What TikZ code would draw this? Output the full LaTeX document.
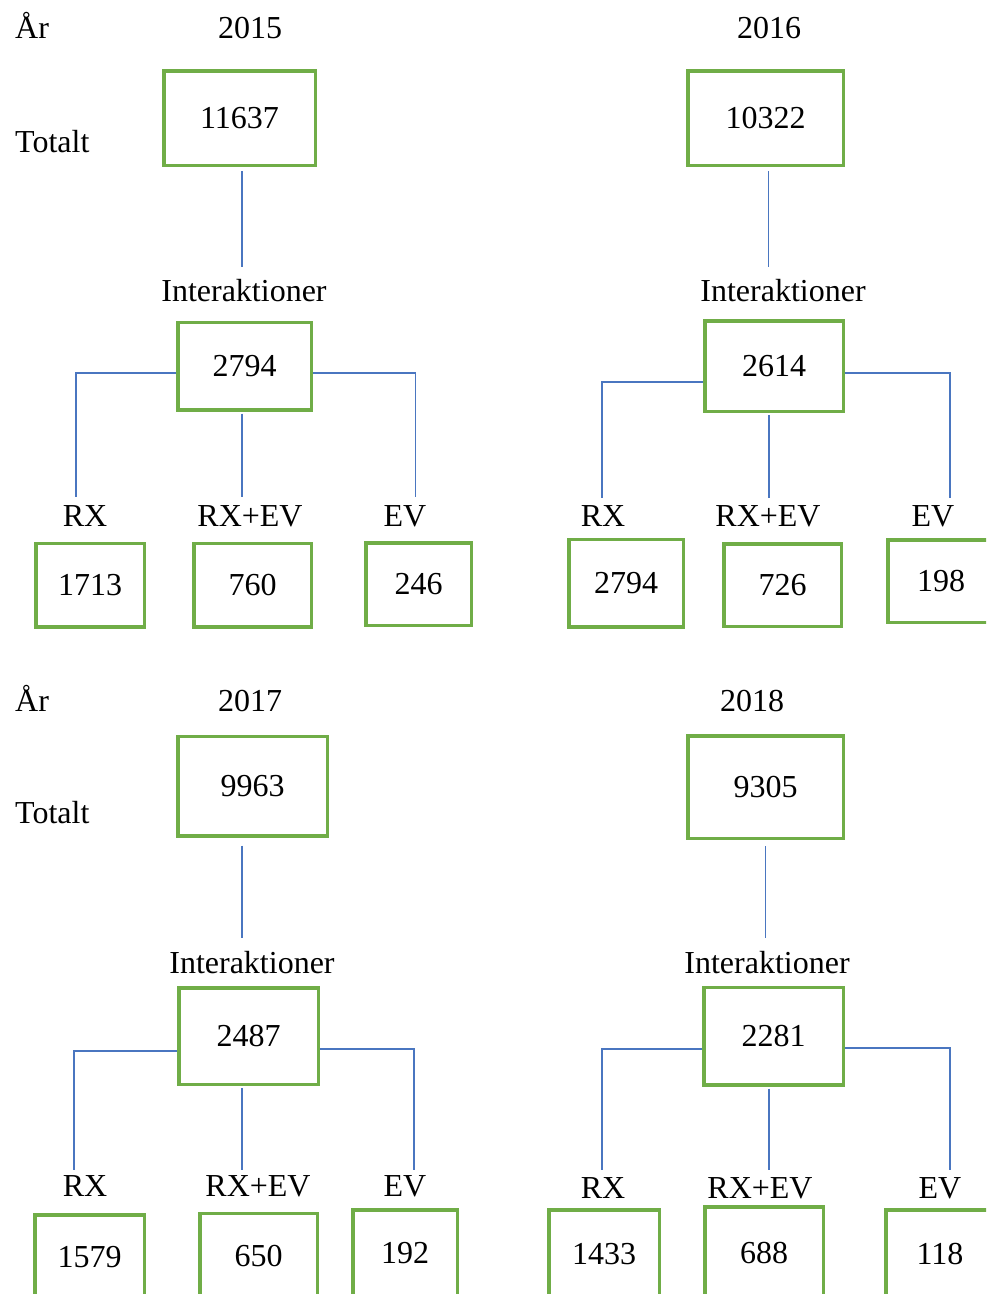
\documentclass[tikz,border=0pt]{standalone}
\usepackage{fontspec}
\setmainfont{Liberation Serif}
\definecolor{boxgreen}{HTML}{70AD47}
\definecolor{linkblue}{HTML}{4A76C0}
\begin{document}
\begin{tikzpicture}[x=1pt,y=-1pt,
  valbox/.style={draw=boxgreen, line width=3.5pt, inner sep=0pt, font=\fontsize{32}{38}\selectfont},
  lbl/.style={inner sep=0pt, anchor=base, font=\fontsize{32}{38}\selectfont},
  lblw/.style={lbl, anchor=base west},
  conn/.style={draw=linkblue, line width=1.5pt}]
\useasboundingbox (0,0) rectangle (986,1294);
\clip (0,0) rectangle (986,1294);
\newcommand{\numbox}[6]{\node[valbox, minimum width=#4pt-3.5pt, minimum height=#5pt-3.5pt] (#1) at (#2,#3) {#6};}
% ---------------- 2015 ----------------
\node[lblw] (ar15) at (15,38) {År};
\node[lbl] (y15) at (250,38) {2015};
\node[lblw] (tot15) at (15,152) {Totalt};
\node[lbl] (int15) at (244,301) {Interaktioner};
\node[lbl] (lr15) at (85,526) {RX};
\node[lbl] (lm15) at (250,526) {RX+EV};
\node[lbl] (le15) at (405,526) {EV};
\numbox{t15}{239.5}{118}{155}{98}{11637}
\numbox{i15}{244.5}{366}{137}{91}{2794}
\numbox{r15}{90}{585}{112}{87}{1713}
\numbox{m15}{252.5}{585}{121}{87}{760}
\numbox{e15}{418.5}{584}{109}{86}{246}
\coordinate (a15) at (242,267);
\coordinate (k15r) at (76,373);
\coordinate (p15r) at (76,497);
\coordinate (p15m) at (242,497);
\coordinate (k15e) at (415.5,373);
\coordinate (p15e) at (415.5,497);
\draw[conn, shorten <=4pt] (t15.south -| a15) -- (a15);
\draw[conn] (i15.west |- k15r) -- (k15r) -- (p15r);
\draw[conn, shorten <=2pt] (i15.south -| p15m) -- (p15m);
\draw[conn] (i15.east |- k15e) -- (k15e) -- (p15e);
% ---------------- 2016 ----------------
\node[lbl] (y16) at (769,38) {2016};
\node[lbl] (int16) at (783,301) {Interaktioner};
\node[lbl] (lr16) at (603,526) {RX};
\node[lbl] (lm16) at (768,526) {RX+EV};
\node[lbl] (le16) at (933,526) {EV};
\numbox{t16}{765.5}{118}{159}{98}{10322}
\numbox{i16}{774}{366}{142}{94}{2614}
\numbox{r16}{626}{583}{118}{91}{2794}
\numbox{m16}{782.5}{585}{121}{86}{726}
\numbox{e16}{941}{581}{110}{86}{198}
\coordinate (a16) at (768.5,267);
\coordinate (k16r) at (602,382);
\coordinate (p16r) at (602,498);
\coordinate (p16m) at (769,498);
\coordinate (k16e) at (950,373);
\coordinate (p16e) at (950,498);
\draw[conn, shorten <=4pt] (t16.south -| a16) -- (a16);
\draw[conn] (i16.west |- k16r) -- (k16r) -- (p16r);
\draw[conn, shorten <=2pt] (i16.south -| p16m) -- (p16m);
\draw[conn] (i16.east |- k16e) -- (k16e) -- (p16e);
% ---------------- 2017 ----------------
\node[lblw] (ar17) at (15,711) {År};
\node[lbl] (y17) at (250,711) {2017};
\node[lblw] (tot17) at (15,823) {Totalt};
\node[lbl] (int17) at (252,973) {Interaktioner};
\node[lbl] (lr17) at (85,1196) {RX};
\node[lbl] (lm17) at (258,1196) {RX+EV};
\node[lbl] (le17) at (405,1196) {EV};
\numbox{t17}{252.5}{786}{153}{103}{9963}
\numbox{i17}{248.5}{1036}{143}{100}{2487}
\numbox{r17}{89.5}{1257}{113}{88}{1579}
\numbox{m17}{258.5}{1256}{121}{89}{650}
\numbox{e17}{405}{1253}{108}{90}{192}
\coordinate (a17) at (242,938);
\coordinate (k17r) at (74,1051);
\coordinate (p17r) at (74,1170);
\coordinate (p17m) at (242,1170);
\coordinate (k17e) at (414,1049);
\coordinate (p17e) at (414,1170);
\draw[conn, shorten <=8pt] (t17.south -| a17) -- (a17);
\draw[conn] (i17.west |- k17r) -- (k17r) -- (p17r);
\draw[conn, shorten <=2pt] (i17.south -| p17m) -- (p17m);
\draw[conn] (i17.east |- k17e) -- (k17e) -- (p17e);
% ---------------- 2018 ----------------
\node[lbl] (y18) at (752,711) {2018};
\node[lbl] (int18) at (767,973) {Interaktioner};
\node[lbl] (lr18) at (603,1198) {RX};
\node[lbl] (lm18) at (760,1198) {RX+EV};
\node[lbl] (le18) at (940,1198) {EV};
\numbox{t18}{765.5}{787}{159}{106}{9305}
\numbox{i18}{773.5}{1036}{143}{101}{2281}
\numbox{r18}{604}{1254}{114}{92}{1433}
\numbox{m18}{764}{1253}{122}{96}{688}
\numbox{e18}{940}{1254}{112}{92}{118}
\coordinate (a18) at (765.5,938);
\coordinate (k18r) at (602,1049);
\coordinate (p18r) at (602,1170);
\coordinate (p18m) at (769,1170);
\coordinate (k18e) at (950,1048);
\coordinate (p18e) at (950,1170);
\draw[conn, shorten <=6pt] (t18.south -| a18) -- (a18);
\draw[conn] (i18.west |- k18r) -- (k18r) -- (p18r);
\draw[conn, shorten <=2pt] (i18.south -| p18m) -- (p18m);
\draw[conn] (i18.east |- k18e) -- (k18e) -- (p18e);
\end{tikzpicture}
\end{document}
